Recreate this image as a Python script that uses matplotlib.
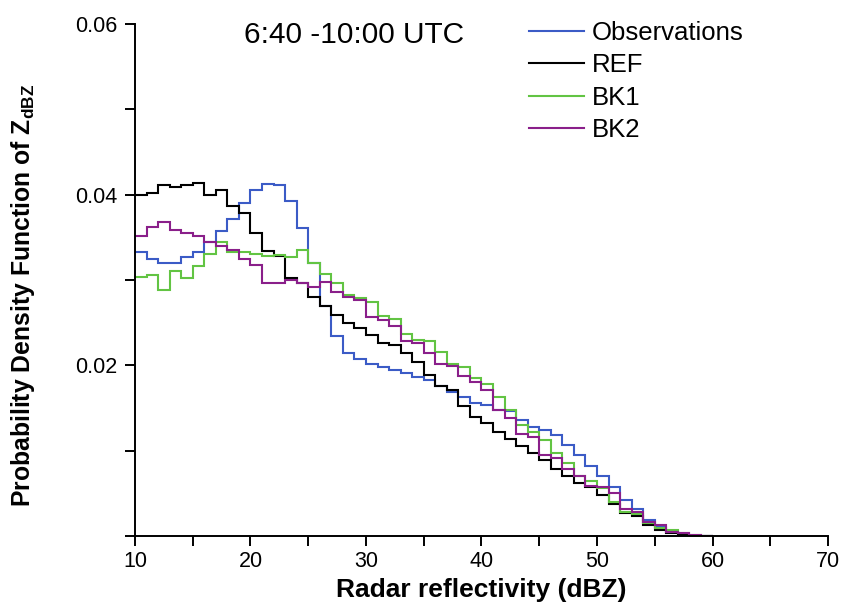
import numpy as np
import matplotlib
matplotlib.use("Agg")
import matplotlib.pyplot as plt
from matplotlib.ticker import MultipleLocator

plt.rcParams['font.family'] = ['Liberation Sans', 'DejaVu Sans']
plt.rcParams['mathtext.fontset'] = 'custom'
plt.rcParams['mathtext.rm'] = 'Liberation Sans'
plt.rcParams['mathtext.bf'] = 'Liberation Sans:bold'

# bin edges in dBZ (1-dBZ bins)
edges = np.arange(10, 61, 1)

observations = [0.0333, 0.0325, 0.0320, 0.0320, 0.0327, 0.0333, 0.0345, 0.0357, 0.0372, 0.0390,
                0.0405, 0.0413, 0.0411, 0.0392, 0.0361, 0.0320, 0.0269, 0.0234, 0.0214, 0.0208,
                0.0202, 0.0198, 0.0195, 0.0191, 0.0186, 0.0183, 0.0176, 0.0169, 0.0163, 0.0156,
                0.0153, 0.0148, 0.0146, 0.0136, 0.0128, 0.0124, 0.0118, 0.0107, 0.0095, 0.0082,
                0.0070, 0.0058, 0.0042, 0.0032, 0.0019, 0.0011, 0.0005, 0.0001, 0.0000, 0.0000]

ref = [0.0400, 0.0402, 0.0411, 0.0409, 0.0411, 0.0414, 0.0400, 0.0405, 0.0387, 0.0378,
       0.0355, 0.0334, 0.0328, 0.0302, 0.0297, 0.0280, 0.0269, 0.0259, 0.0250, 0.0244,
       0.0236, 0.0226, 0.0224, 0.0214, 0.0204, 0.0189, 0.0176, 0.0171, 0.0152, 0.0140,
       0.0132, 0.0122, 0.0114, 0.0105, 0.0097, 0.0089, 0.0079, 0.0070, 0.0062, 0.0058,
       0.0048, 0.0038, 0.0027, 0.0023, 0.0013, 0.0007, 0.0003, 0.0001, 0.0000, 0.0000]

bk1 = [0.0304, 0.0306, 0.0288, 0.0310, 0.0302, 0.0316, 0.0331, 0.0345, 0.0333, 0.0333,
       0.0330, 0.0328, 0.0329, 0.0327, 0.0335, 0.0320, 0.0307, 0.0296, 0.0283, 0.0279,
       0.0274, 0.0258, 0.0254, 0.0237, 0.0230, 0.0228, 0.0216, 0.0201, 0.0198, 0.0185,
       0.0178, 0.0163, 0.0148, 0.0130, 0.0122, 0.0112, 0.0097, 0.0085, 0.0070, 0.0064,
       0.0056, 0.0040, 0.0028, 0.0026, 0.0015, 0.0009, 0.0007, 0.0004, 0.0001, 0.0000]

bk2 = [0.0351, 0.0362, 0.0368, 0.0359, 0.0355, 0.0352, 0.0345, 0.0340, 0.0335, 0.0325,
       0.0318, 0.0296, 0.0296, 0.0300, 0.0297, 0.0292, 0.0298, 0.0286, 0.0280, 0.0276,
       0.0257, 0.0253, 0.0246, 0.0228, 0.0226, 0.0215, 0.0201, 0.0199, 0.0187, 0.0181,
       0.0171, 0.0148, 0.0138, 0.0120, 0.0116, 0.0095, 0.0091, 0.0079, 0.0070, 0.0059,
       0.0058, 0.0050, 0.0032, 0.0028, 0.0017, 0.0013, 0.0005, 0.0003, 0.0001, 0.0000]

series = [("Observations", observations, "#3b5bc6"),
          ("REF", ref, "#000000"),
          ("BK1", bk1, "#62c443"),
          ("BK2", bk2, "#8a1f8a")]

fig = plt.figure(figsize=(8.42, 6.06), dpi=100)
ax = fig.add_axes([0.1603, 0.1155, 0.8231, 0.8449])

for name, vals, col in series:
    ax.stairs(vals, edges, baseline=None, color=col, lw=1.5, label=name)

ax.set_xlim(10, 70)
ax.set_ylim(0, 0.06)
ax.xaxis.set_major_locator(MultipleLocator(10))
ax.xaxis.set_minor_locator(MultipleLocator(5))
ax.set_yticks([0.02, 0.04, 0.06])
ax.set_yticklabels(["0.02", "0.04", "0.06"])
ax.yaxis.set_minor_locator(MultipleLocator(0.01))

for s in ["top", "right"]:
    ax.spines[s].set_visible(False)
for s in ["left", "bottom"]:
    ax.spines[s].set_linewidth(1.4)

ax.tick_params(which="both", direction="out", length=7, width=1.4, labelsize=15.5)
ax.tick_params(axis="x", pad=4)
ax.tick_params(axis="y", pad=6)

ax.set_xlabel("Radar reflectivity (dBZ)", fontsize=19, fontweight="bold", labelpad=4)
ax.set_ylabel(r"Probability Density Function of Z$_{\mathbf{dBZ}}$", fontsize=17.8,
              fontweight="bold")
ax.yaxis.set_label_coords(-0.142, 0.47)

ax.text(0.316, 0.978, "6:40 -10:00 UTC", transform=ax.transAxes, ha="center", va="center",
        fontsize=21.5)

leg = ax.legend(loc="upper left", bbox_to_anchor=(0.568, 1.006), frameon=False,
                fontsize=18.5, handlelength=2.15, labelspacing=0.33, handletextpad=0.3,
                borderpad=0, borderaxespad=0)

fig.savefig("out.png", dpi=100)
